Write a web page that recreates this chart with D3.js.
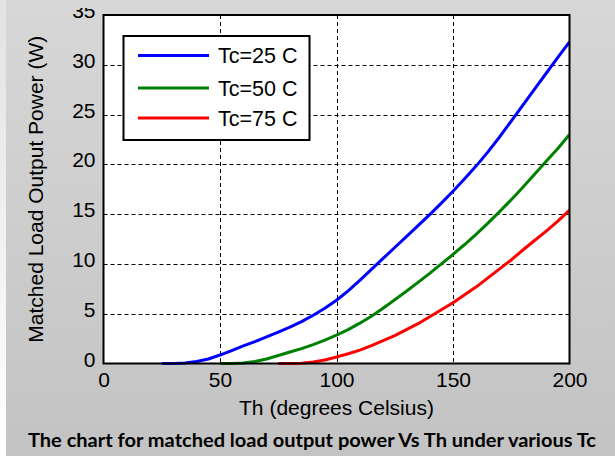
<!DOCTYPE html>
<html><head><meta charset="utf-8">
<script src="https://cdn.jsdelivr.net/npm/d3@7"></script>
<style>body{margin:0;padding:0;overflow:hidden}</style>
</head><body>
<svg id="c" width="615" height="456"></svg>
<script>
const xTicks = [0, 50, 100, 150, 200];
const yTicks = [0, 5, 10, 15, 20, 25, 30, 35];
const seriesNames = ["Tc=25 C", "Tc=50 C", "Tc=75 C"];
const seriesColors = ["#0000ff", "#008000", "#ff0000"];
const thBlue = [25,30,35,40,45,50,55,60,65,70,75,80,85,90,95,100,105,110,115,120,125,130,135,140,145,150,155,160,165,170,175,180,185,190,195,200];
const pBlue  = [0,0,0.05,0.2,0.45,0.85,1.3,1.76,2.2,2.68,3.15,3.65,4.2,4.85,5.55,6.35,7.3,8.35,9.45,10.55,11.65,12.75,13.85,14.95,16.1,17.3,18.55,19.85,21.25,22.75,24.35,25.95,27.55,29.15,30.75,32.3];
const thGreen = [50,55,60,65,70,75,80,85,90,95,100,105,110,115,120,125,130,135,140,145,150,155,160,165,170,175,180,185,190,195,200];
const pGreen  = [0,0,0.05,0.2,0.45,0.8,1.15,1.5,1.9,2.35,2.85,3.4,4.05,4.75,5.55,6.4,7.25,8.15,9.05,10.0,10.95,11.95,13.0,14.1,15.25,16.45,17.7,19.0,20.3,21.6,23.0];
const thRed = [75,80,85,90,95,100,105,110,115,120,125,130,135,140,145,150,155,160,165,170,175,180,185,190,195,200];
const pRed  = [0,0,0.03,0.15,0.35,0.65,0.98,1.35,1.8,2.3,2.8,3.4,4.0,4.7,5.4,6.1,6.9,7.7,8.6,9.5,10.4,11.4,12.35,13.3,14.3,15.4];
const xTitle = "Th (degrees Celsius)";
const yTitle = "Matched Load Output Power (W)";
const caption = "The chart for matched load output power Vs Th under various Tc";

const series = [
  {name: seriesNames[0], color: seriesColors[0], pts: thBlue.map((t,i)=>[t,pBlue[i]])},
  {name: seriesNames[1], color: seriesColors[1], pts: thGreen.map((t,i)=>[t,pGreen[i]])},
  {name: seriesNames[2], color: seriesColors[2], pts: thRed.map((t,i)=>[t,pRed[i]])}
];

const svg = d3.select("#c");
const W = 615, H = 456;
const L = 103.5, R = 569.5, T = 15, B = 363.5;
const font = "'Liberation Sans', Arial, sans-serif";

const defs = svg.append("defs");
const g1 = defs.append("linearGradient").attr("id","bg").attr("x1",0).attr("y1",0).attr("x2",0).attr("y2",1);
g1.append("stop").attr("offset","0%").attr("stop-color","#d7d7d7");
g1.append("stop").attr("offset","100%").attr("stop-color","#c3c3c3");
const g2 = defs.append("linearGradient").attr("id","strip").attr("x1",0).attr("y1",0).attr("x2",0).attr("y2",1);
g2.append("stop").attr("offset","0%").attr("stop-color","#e2e2e2");
g2.append("stop").attr("offset","100%").attr("stop-color","#ffffff");

svg.append("rect").attr("width",W).attr("height",H).attr("fill","url(#bg)");
svg.append("rect").attr("width",6).attr("height",H).attr("fill","url(#strip)");

const x = d3.scaleLinear().domain([0,200]).range([L,R]);
const y = d3.scaleLinear().domain([0,35]).range([B,T]);

svg.append("rect").attr("x",L).attr("y",T).attr("width",R-L).attr("height",B-T).attr("fill","#fff");

// grid
const grid = svg.append("g").attr("stroke","#000").attr("stroke-width",1).attr("stroke-dasharray","4,3");
grid.selectAll("line.v").data(xTicks.slice(1,-1)).join("line")
  .attr("x1",d=>Math.round(x(d))+0.5).attr("x2",d=>Math.round(x(d))+0.5).attr("y1",T).attr("y2",B);
grid.selectAll("line.h").data(yTicks.slice(1,-1)).join("line")
  .attr("y1",d=>Math.round(y(d))+0.5).attr("y2",d=>Math.round(y(d))+0.5).attr("x1",L).attr("x2",R);

// curves
const line = d3.line().x(d=>x(d[0])).y(d=>y(d[1]));
svg.append("g").selectAll("path").data(series).join("path")
  .attr("d",d=>line(d.pts)).attr("fill","none").attr("stroke",d=>d.color)
  .attr("stroke-width",3).attr("stroke-linejoin","round");

// axis box
svg.append("rect").attr("x",L).attr("y",T).attr("width",R-L).attr("height",B-T)
  .attr("fill","none").attr("stroke","#000").attr("stroke-width",2);

// axes via d3
const xAxis = svg.append("g").attr("transform",`translate(0,${B})`)
  .call(d3.axisBottom(x).tickValues(xTicks).tickSize(0).tickPadding(8).tickFormat(d3.format("d")));
xAxis.select(".domain").remove();
xAxis.selectAll("text").attr("font-family",font).attr("font-size",21).attr("fill","#000").attr("dy","0.72em");

const yAxis = svg.append("g").attr("transform",`translate(${L},0)`)
  .call(d3.axisLeft(y).tickValues(yTicks).tickSize(0).tickPadding(8).tickFormat(d3.format("d")));
yAxis.select(".domain").remove();
yAxis.selectAll("text").attr("font-family",font).attr("font-size",21).attr("fill","#000").attr("dy","0.12em");

// top cover (reference cuts top of "35")
svg.append("rect").attr("x",50).attr("y",0).attr("width",50).attr("height",8).attr("fill","#d7d7d7");

// titles
svg.append("text").attr("x",(L+R)/2).attr("y",415).attr("text-anchor","middle")
  .attr("font-family",font).attr("font-size",21).text(xTitle);
svg.append("text").attr("transform",`translate(43,${(T+B)/2}) rotate(-90)`).attr("text-anchor","middle")
  .attr("font-family",font).attr("font-size",21).text(yTitle);

// legend
const lg = svg.append("g");
lg.append("rect").attr("x",123.5).attr("y",36).attr("width",186).attr("height",104)
  .attr("fill","#fff").attr("stroke","#000").attr("stroke-width",2);
const ly = [55.5, 88, 118];
series.forEach((s,i)=>{
  lg.append("line").attr("x1",138).attr("x2",209).attr("y1",ly[i]).attr("y2",ly[i])
    .attr("stroke",s.color).attr("stroke-width",3);
  lg.append("text").attr("x",218).attr("y",ly[i]).attr("dy","0.36em")
    .attr("font-family",font).attr("font-size",21.5).text(s.name);
});

// caption
svg.append("text").attr("x",312).attr("y",447).attr("text-anchor","middle")
  .attr("font-family","Lato, 'Open Sans', sans-serif").attr("font-weight","bold").attr("font-size",18)
  .attr("textLength",568).attr("lengthAdjust","spacingAndGlyphs").text(caption);
</script>
</body></html>
